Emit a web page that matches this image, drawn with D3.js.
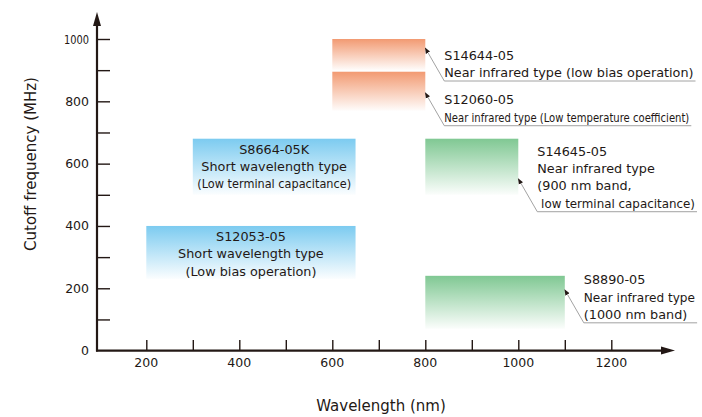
<!DOCTYPE html>
<html>
<head>
<meta charset="utf-8">
<script src="https://cdn.jsdelivr.net/npm/d3@7"></script>
<style>
  html, body { margin: 0; padding: 0; background: #fff; }
  svg { display: block; }
  text { font-family: "DejaVu Sans", Verdana, sans-serif; fill: #231815; }
</style>
</head>
<body>
<svg id="chart" width="702" height="417"></svg>
<script>
// Photodiode families: wavelength span (nm) against cutoff frequency (MHz)
const products   = ["S14644-05", "S12060-05", "S8664-05K", "S12053-05", "S14645-05", "S8890-05"];
const wlStart    = [600, 600, 300, 200, 800, 800];
const wlEnd      = [800, 800, 650, 650, 1000, 1100];
const fcTop      = [1000, 895, 680, 400, 680, 240];
const fcBottom   = [900, 770, 500, 230, 500, 70];
const family     = ["nir-orange", "nir-orange", "short", "short", "nir-green", "nir-green"];
const details    = [
  ["Near infrared type (low bias operation)"],
  ["Near infrared type (Low temperature coefficient)"],
  ["Short wavelength type", "(Low terminal capacitance)"],
  ["Short wavelength type", "(Low bias operation)"],
  ["Near infrared type", "(900 nm band,", " low terminal capacitance)"],
  ["Near infrared type", "(1000 nm band)"]
];

const xTicks      = [200, 300, 400, 500, 600, 700, 800, 900, 1000, 1100, 1200];
const xTickLabels = [200, 400, 600, 800, 1000, 1200];
const yTicks      = [100, 200, 300, 400, 500, 600, 700, 800, 900, 1000];
const yTickLabels = [0, 200, 400, 600, 800, 1000];

const ink = "#231815";
const familyColor = { "nir-orange": "#f29a72", "short": "#7ccbf0", "nir-green": "#80c893" };
// where each callout arrow touches its box, in px below the box top
const calloutDrop = { "S14644-05": 9, "S12060-05": 21, "S14645-05": 40, "S8890-05": 14 };
const labelRightLimit = 695;

const svg = d3.select("#chart");
const x = d3.scaleLinear().domain([200, 1200]).range([146.3, 611.3]);
const y = d3.scaleLinear().domain([0, 1000]).range([350.6, 39]);
const originX = 97;

// squeeze a text line so that it is no wider than maxW
function fitWidth(sel, maxW) {
  const w = sel.node().getComputedTextLength();
  if (w > maxW) sel.attr("textLength", maxW).attr("lengthAdjust", "spacingAndGlyphs");
}

// vertical gradients: full colour at top, fading to white
const defs = svg.append("defs");
Object.entries(familyColor).forEach(([key, col]) => {
  const g = defs.append("linearGradient").attr("id", "grad-" + key)
    .attr("x1", 0).attr("y1", 0).attr("x2", 0).attr("y2", 1);
  g.append("stop").attr("offset", "0%").attr("stop-color", col).attr("stop-opacity", 1);
  g.append("stop").attr("offset", "100%").attr("stop-color", col).attr("stop-opacity", 0.03);
});
defs.append("marker").attr("id", "tip").attr("viewBox", "0 0 10 10")
  .attr("refX", 9).attr("refY", 5).attr("markerWidth", 6).attr("markerHeight", 6)
  .attr("markerUnits", "userSpaceOnUse").attr("orient", "auto")
  .append("path").attr("d", "M0,1 L10,5 L0,9 Z").attr("fill", ink);

// product boxes
const idx = d3.range(products.length);
svg.append("g").selectAll("rect").data(idx).join("rect")
  .attr("x", i => x(wlStart[i]))
  .attr("y", i => y(fcTop[i]))
  .attr("width", i => x(wlEnd[i]) - x(wlStart[i]))
  .attr("height", i => y(fcBottom[i]) - y(fcTop[i]))
  .attr("fill", i => `url(#grad-${family[i]})`);

// axes
const axisG = svg.append("g");
const yAxis = d3.axisRight(y).tickValues(yTicks).tickSize(13).tickFormat("");
axisG.append("g").attr("transform", `translate(${originX},0)`).call(yAxis)
  .call(g => g.select(".domain").remove())
  .call(g => g.selectAll("line").attr("stroke", ink).attr("stroke-width", 1.4));
const xAxis = d3.axisTop(x).tickValues(xTicks).tickSize(10.5).tickFormat("");
axisG.append("g").attr("transform", `translate(0,${y(0)})`).call(xAxis)
  .call(g => g.select(".domain").remove())
  .call(g => g.selectAll("line").attr("stroke", ink).attr("stroke-width", 1.4));

axisG.append("line").attr("x1", originX).attr("x2", originX)
  .attr("y1", y(0) + 1).attr("y2", 24).attr("stroke", ink).attr("stroke-width", 2.2);
axisG.append("path").attr("d", `M${originX},12 L${originX - 4},26 L${originX + 4},26 Z`).attr("fill", ink);
axisG.append("line").attr("x1", originX - 1).attr("x2", 663)
  .attr("y1", y(0)).attr("y2", y(0)).attr("stroke", ink).attr("stroke-width", 2.2);
axisG.append("path").attr("d", `M675,${y(0)} L661,${y(0) - 4} L661,${y(0) + 4} Z`).attr("fill", ink);

// tick labels
axisG.append("g").selectAll("text").data(yTickLabels).join("text")
  .attr("x", 89).attr("y", d => y(d)).attr("dy", "0.36em")
  .attr("text-anchor", "end").attr("font-size", 12.5)
  .text(d => d)
  .each(function (d) { if (d >= 1000) d3.select(this).attr("textLength", 25).attr("lengthAdjust", "spacingAndGlyphs"); });
axisG.append("g").selectAll("text").data(xTickLabels).join("text")
  .attr("x", d => x(d)).attr("y", 366.5)
  .attr("text-anchor", "middle").attr("font-size", 12.5)
  .text(d => d);

// axis titles
svg.append("text").attr("x", 381).attr("y", 411).attr("text-anchor", "middle")
  .attr("font-size", 15).text("Wavelength (nm)");
svg.append("text").attr("transform", "translate(36,164) rotate(-90)").attr("text-anchor", "middle")
  .attr("font-size", 15).text("Cutoff frequency (MHz)");

// in-box labels for the short wavelength types, callouts for the rest
const lineGap = 17.3;
idx.forEach(i => {
  const lines = [products[i]].concat(details[i]);
  if (family[i] === "short") {
    const x0 = x(wlStart[i]), x1 = x(wlEnd[i]);
    const cx = (x0 + x1) / 2;
    const t = svg.append("text").attr("text-anchor", "middle").attr("font-size", 12.8);
    lines.forEach((s, k) => {
      const ts = t.append("tspan").attr("x", cx).attr("y", y(fcTop[i]) + 15 + k * lineGap).text(s);
      fitWidth(ts, x1 - x0 - 9);
    });
  } else {
    const tipX = x(wlEnd[i]);
    const tipY = y(fcTop[i]) + calloutDrop[products[i]];
    const elbowX = tipX + 19, elbowY = tipY + 33;
    const g = svg.append("g");
    const t = g.append("text").attr("font-size", 12.8).style("white-space", "pre");
    lines.forEach((s, k) => {
      const ts = t.append("tspan").attr("x", elbowX)
        .attr("y", elbowY - 4 - (lines.length - 1 - k) * lineGap).text(s);
      if (s.length > 42) ts.attr("textLength", 245).attr("lengthAdjust", "spacingAndGlyphs");
      else fitWidth(ts, labelRightLimit - elbowX);
    });
    const right = Math.min(701, elbowX + t.node().getBBox().width + 2);
    g.append("polyline")
      .attr("points", `${right},${elbowY} ${elbowX},${elbowY} ${tipX},${tipY}`)
      .attr("fill", "none").attr("stroke", "#8a8a8a").attr("stroke-width", 0.8)
      .attr("marker-end", "url(#tip)");
  }
});
</script>
</body>
</html>
